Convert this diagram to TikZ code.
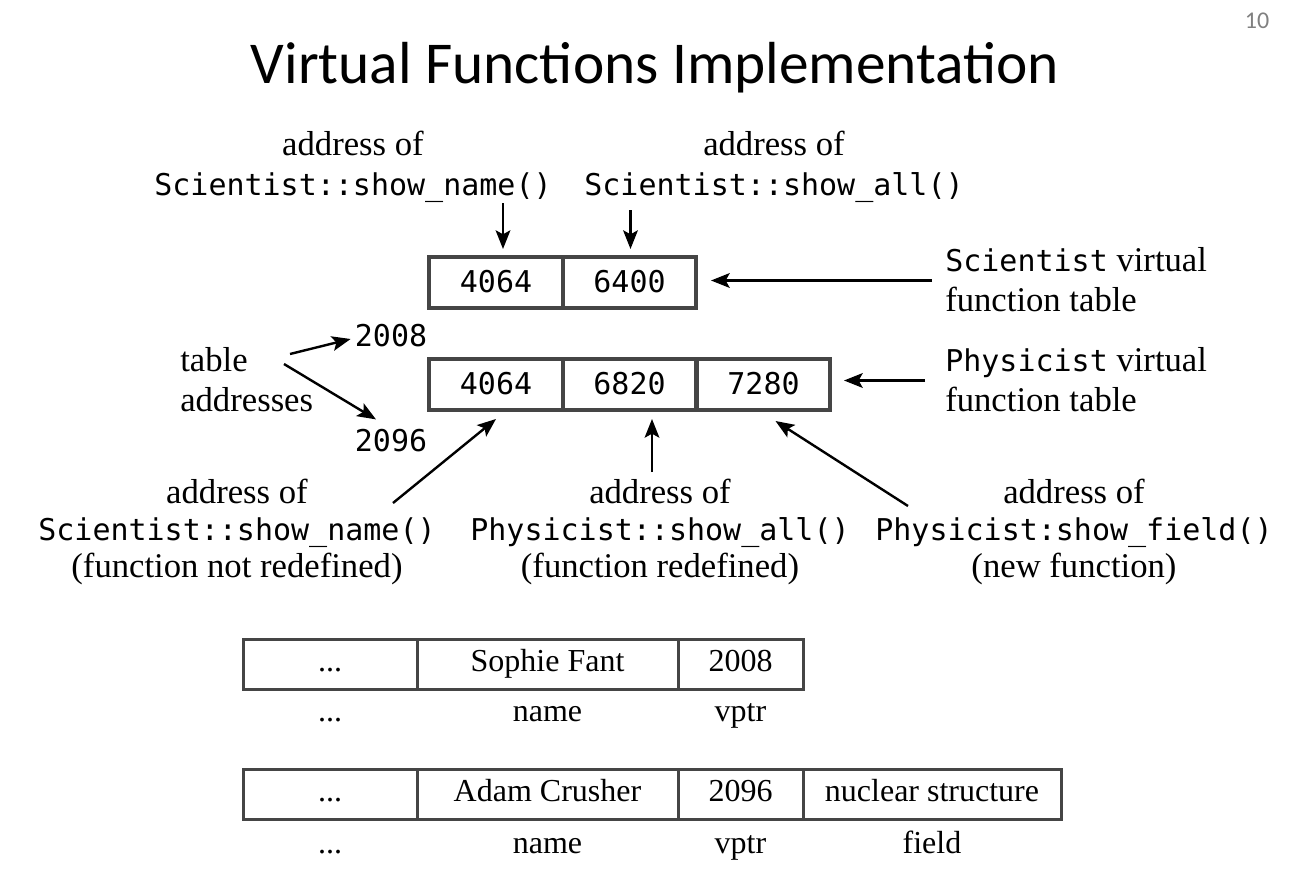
\documentclass[tikz,border=0pt]{standalone}
\usepackage{fontspec}
\setmainfont{Liberation Serif}
\setmonofont{DejaVu Sans Mono}
\newfontfamily\titlefont{Carlito}
\usetikzlibrary{arrows.meta,calc}
\definecolor{boxgray}{HTML}{454545}
\definecolor{numgray}{HTML}{808080}
\newcommand\mt[1]{{\ttfamily\fontsize{22.5}{28}\selectfont #1}}
\begin{document}
\begin{tikzpicture}[x=0.75pt,y=-0.75pt,
  lbl/.style={inner sep=0pt, font=\fontsize{26}{30}\selectfont},
  lbl3/.style={inner sep=0pt, align=center, font=\fontsize{26}{28}\selectfont},
  vcell/.style={draw=boxgray, line width=3pt, inner sep=0pt, minimum height=38.25pt, text height=16pt, text depth=1pt, font=\ttfamily\fontsize{22.5}{26}\selectfont},
  ocell/.style={draw=boxgray, line width=2.25pt, inner sep=0pt, minimum height=37.5pt, text height=16.8pt, text depth=6pt, font=\fontsize{24}{26}\selectfont},
  olbl/.style={inner sep=0pt, text height=16.8pt, text depth=6pt, font=\fontsize{24}{26}\selectfont},
  mnum/.style={inner sep=0pt, text height=16pt, text depth=1pt, font=\ttfamily\fontsize{22.5}{26}\selectfont},
  arr/.style={-{Stealth[length=14pt,width=11pt,inset=3pt]}, line width=1.8pt}]
\useasboundingbox[fill=white] (0,0) rectangle (1309,885);

% title and page number
\node[inner sep=0pt, font=\titlefont\fontsize{44.5}{50}\selectfont] (title) at (655,68) {Virtual Functions Implementation};
\node[inner sep=0pt, text=numgray, font=\titlefont\fontsize{18}{20}\selectfont] (pnum) at (1257,21) {10};

% Scientist vtable
\node[vcell, minimum width=100.5pt] (s1) at (496,282.5) {4064};
\node[vcell, minimum width=99.75pt] (s2) at (629.5,282.5) {6400};
% Physicist vtable
\node[vcell, minimum width=100.5pt] (p1) at (496,384.5) {4064};
\node[vcell, minimum width=99.75pt] (p2) at (629.5,384.5) {6820};
\node[vcell, minimum width=99.75pt] (p3) at (763.5,384.5) {7280};

% top labels
\node[lbl, align=center] (lblA) at (353,167) {address of\\\mt{Scientist::show\_name()}};
\node[lbl, align=center] (lblB) at (774,167) {address of\\\mt{Scientist::show\_all()}};
\node[lbl, align=left, anchor=west] (lblC) at (945,280) {\mt{Scientist} virtual\\function table};
\node[lbl, align=left, anchor=west] (lblD) at (945,380) {\mt{Physicist} virtual\\function table};
\node[lbl, align=left, anchor=west] (lblE) at (180,380) {table\\addresses};
\node[mnum] (a2008) at (391,336) {2008};
\node[mnum] (a2096) at (391,441) {2096};

% bottom labels
\node[lbl3] (lblF) at (237,532) {address of\\\mt{Scientist::show\_name()}\\(function not redefined)};
\node[lbl3] (lblG) at (660,532) {address of\\\mt{Physicist::show\_all()}\\(function redefined)};
\node[lbl3] (lblH) at (1074,532) {address of\\\mt{Physicist:show\_field()}\\(new function)};

% arrows
\draw[arr] ($(s1.north)+(7,-52)$) -- ($(s1.north)+(7,-6)$);
\draw[arr] ($(s2.north)+(1,-45)$) -- ($(s2.north)+(1,-6)$);
\draw[arr] ($(lblC.west |- s2.east)+(-13,-2)$) -- ($(s2.east)+(13,-2)$);
\draw[arr] ($(lblD.west |- p3.east)+(-20,-4)$) -- ($(p3.east)+(12,-4)$);
\coordinate (eA) at (290,354);
\coordinate (eB) at (284,364);
\draw[arr] (eA) -- ($(a2008.west)+(-4,3)$);
\draw[arr] (eB) -- ($(a2096.north)+(-15,-10)$);
\coordinate (fT) at (393,503);
\coordinate (gT) at (652,472);
\coordinate (hT) at (908,506);
\draw[arr] (fT) -- ($(p1.south)+(0,7)$);
\draw[arr] (gT) -- ($(p2.south)+(22.5,7)$);
\draw[arr] (hT) -- ($(p3.south)+(12,9)$);

% object layouts
\node[ocell, minimum width=130.5pt] (o1a) at (330,664) {...};
\node[ocell, minimum width=195.75pt] (o1b) at (547.5,664) {Sophie Fant};
\node[ocell, minimum width=93.75pt] (o1c) at (740.5,664) {2008};
\node[olbl] (l1a) at (330,714) {...};
\node[olbl] (l1b) at (547.5,714) {name};
\node[olbl] (l1c) at (740.5,714) {vptr};

\node[ocell, minimum width=130.5pt] (o2a) at (330,794.5) {...};
\node[ocell, minimum width=195.75pt] (o2b) at (547.5,794.5) {Adam Crusher};
\node[ocell, minimum width=93.75pt] (o2c) at (740.5,794.5) {2096};
\node[ocell, minimum width=193.5pt] (o2d) at (932,794.5) {nuclear structure};
\node[olbl] (l2a) at (330,846) {...};
\node[olbl] (l2b) at (547.5,846) {name};
\node[olbl] (l2c) at (740.5,846) {vptr};
\node[olbl] (l2d) at (932,846) {field};
\end{tikzpicture}
\end{document}
